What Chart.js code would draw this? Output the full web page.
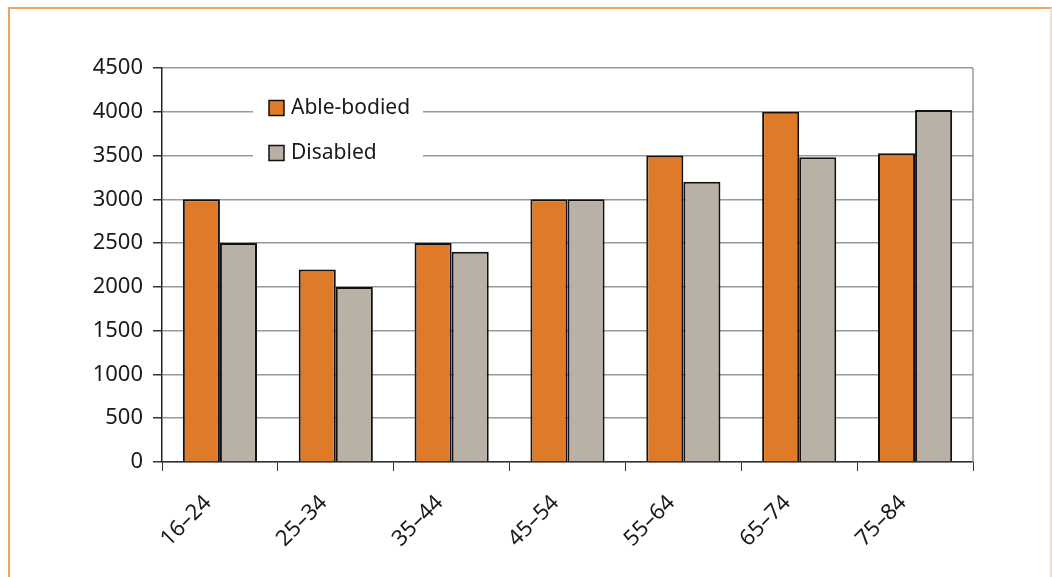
<!DOCTYPE html>
<html>
<head>
<meta charset="utf-8">
<script src="https://cdn.jsdelivr.net/npm/chart.js@4"></script>
<style>
    body { margin: 0; background: #fff; }
    #wrap { position: relative; width: 1052px; height: 577px; overflow: hidden; }
    #frame { position: absolute; left: 8px; top: 7px; width: 1040px; height: 600px; border: 2px solid #f0a35e; border-right-color: #f3dccb; }
    canvas { position: absolute; left: 0; top: 0; }
</style>
</head>
<body>
<div id="wrap">
    <div id="frame"></div>
    <canvas id="ageChart" width="1052" height="577"></canvas>
</div>
<script>
const categories = ['16–24', '25–34', '35–44', '45–54', '55–64', '65–74', '75–84'];
const ableBodied = [3000, 2200, 2500, 3000, 3500, 4000, 3525];
const disabled = [2500, 2000, 2400, 3000, 3200, 3480, 4020];
const yMax = 4500;
const yStep = 500;

const textColor = '#1a1a1a';
const fontFamily = '"Noto Sans", "Open Sans", sans-serif';

// legend drawn inside the plot, over a white patch that hides the gridlines
const innerLegend = {
    id: 'innerLegend',
    afterDatasetsDraw(chart) {
        const ctx = chart.ctx;
        const area = chart.chartArea;
        const x0 = area.left + 91;
        const y0 = area.top + 25;
        ctx.save();
        ctx.fillStyle = '#fff';
        ctx.fillRect(x0, y0, 170, 70);
        ctx.font = '21px ' + fontFamily;
        ctx.textBaseline = 'middle';
        chart.data.datasets.forEach((ds, i) => {
            const cy = area.top + 40 + i * 45;
            ctx.fillStyle = ds.backgroundColor;
            ctx.fillRect(x0 + 16, cy - 7.5, 15, 15);
            ctx.strokeStyle = '#111';
            ctx.lineWidth = 1.5;
            ctx.strokeRect(x0 + 16, cy - 7.5, 15, 15);
            ctx.fillStyle = textColor;
            ctx.fillText(ds.label, x0 + 38, cy);
        });
        ctx.restore();
    }
};

const rightBorder = {
    id: 'rightBorder',
    beforeDatasetsDraw(chart) {
        const ctx = chart.ctx;
        const area = chart.chartArea;
        ctx.save();
        ctx.strokeStyle = '#999';
        ctx.lineWidth = 1.5;
        ctx.beginPath();
        ctx.moveTo(area.right, area.top);
        ctx.lineTo(area.right, area.bottom);
        ctx.stroke();
        ctx.restore();
    }
};

const ctx = document.getElementById('ageChart').getContext('2d');
new Chart(ctx, {
    type: 'bar',
    data: {
        labels: categories,
        datasets: [{
            label: 'Able-bodied',
            data: ableBodied,
            backgroundColor: '#df7b28',
            borderColor: '#111',
            borderWidth: 2
        }, {
            label: 'Disabled',
            data: disabled,
            backgroundColor: '#b9b0a6',
            borderColor: '#111',
            borderWidth: 2
        }]
    },
    options: {
        responsive: false,
        animation: false,
        categoryPercentage: 0.64,
        barPercentage: 1.0,
        layout: {
            padding: { top: 68, right: 79, left: 0, bottom: 0 }
        },
        scales: {
            x: {
                afterFit: scale => { scale.height = 115; },
                grid: {
                    offset: true,
                    drawOnChartArea: false,
                    tickLength: 9,
                    tickColor: '#333'
                },
                border: { color: '#333', width: 1.5 },
                ticks: {
                    color: textColor,
                    font: { family: fontFamily, size: 22 },
                    minRotation: 45,
                    maxRotation: 45,
                    padding: 19,
                    labelOffset: -12
                }
            },
            y: {
                min: 0,
                max: yMax,
                afterFit: scale => { scale.width = 162; },
                grid: {
                    color: '#999',
                    lineWidth: 1.5,
                    tickLength: 9,
                    tickColor: '#333'
                },
                border: { color: '#222', width: 1.5 },
                ticks: {
                    stepSize: yStep,
                    color: textColor,
                    font: { family: fontFamily, size: 22 },
                    padding: 10,
                    callback: value => String(value)
                }
            }
        },
        plugins: {
            legend: { display: false },
            tooltip: { enabled: false }
        }
    },
    plugins: [rightBorder, innerLegend]
});
</script>
</body>
</html>
